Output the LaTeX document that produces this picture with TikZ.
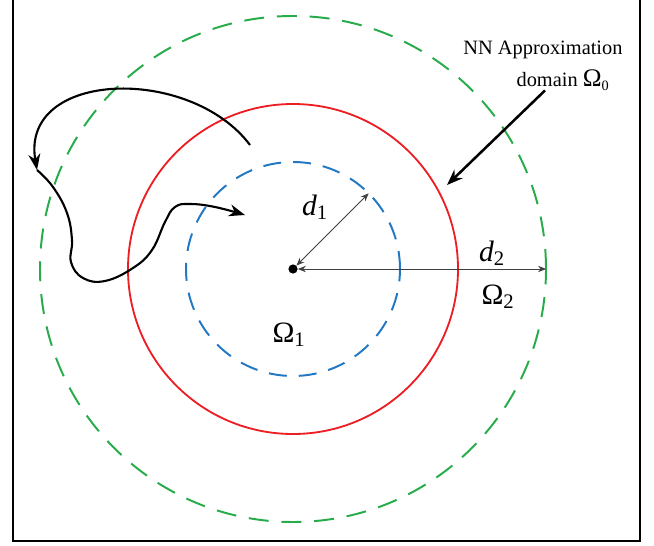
\documentclass[tikz,border=0pt]{standalone}
\usepackage{fontspec}
\setmainfont{Liberation Serif}
\usetikzlibrary{arrows.meta, calc}

\definecolor{ringgreen}{RGB}{40,172,75}
\definecolor{ringred}{RGB}{236,30,36}
\definecolor{ringblue}{RGB}{35,120,196}

\begin{document}
\begin{tikzpicture}[
    % Define Ring Styles
    outerring/.style={ringgreen, line width=1.4pt, dash pattern=on 5mm off 3.2mm},
    nnring/.style={ringred, line width=1.3pt},
    innerring/.style={ringblue, line width=1.4pt, dash pattern=on 4.5mm off 3mm},
    % Define Arrow Styles
    dimarrow/.style={{Stealth[length=2mm, width=1.6mm]}-{Stealth[length=2mm, width=1.6mm]}, line width=0.6pt, black!75},
    bigarrow/.style={-{Stealth[length=4mm, width=3mm]}, line width=1.8pt},
    trajectory/.style={-{Stealth[length=4mm, width=3mm]}, line width=1.5pt},
    lbl/.style={font=\fontsize{14.5}{17}\selectfont, inner sep=0pt},
    symlbl/.style={font=\fontsize{21}{24}\selectfont, inner sep=0pt}
    ]
    \useasboundingbox (-7.325,-6.9) rectangle (9.025,6.725);

    % Frame
    \draw[line width=1.4pt] (-7.0,6.8) -- (-7.0,-6.8) -- (8.675,-6.8) -- (8.675,6.8);

    % Rings
    \draw[outerring] (0,0) circle (6.325);
    \draw[nnring] (0,0) circle (4.125);
    \draw[innerring] (0,0) circle (2.675);

    % Nodes
    \node[circle, fill, inner sep=0pt, minimum size=2.3mm] (O) at (0,0) {};
    \coordinate (P1) at (45:2.675);
    \coordinate (P2) at (0:6.325);
    \coordinate (R0) at (28.6:4.385);
    \node[symlbl] (d1lab) at (0.55,1.55) {\textit{d}\textsubscript{1}};
    \node[symlbl] (d2lab) at (4.975,0.4) {\textit{d}\textsubscript{2}};
    \node[symlbl] (om1lab) at (-0.1,-1.65) {Ω\textsubscript{1}};
    \node[symlbl] (om2lab) at (5.125,-0.7) {Ω\textsubscript{2}};
    \node[lbl] (nnlab) at (6.25,5.475) {NN Approximation};
    \node[lbl] (domlab) at (6.75,4.72) {domain {\fontsize{18}{20}\selectfont Ω}\textsubscript{0}};

    % Radii
    \draw[dimarrow] (O) -- (P1);
    \draw[dimarrow] (O) -- (P2);

    % Pointer to the approximation domain
    \draw[bigarrow] ($(domlab.south)+(-0.45,0.0)$) -- (R0);

    % Trajectory
    \coordinate (T0) at (-1.075,3.1);
    \coordinate (T1) at (-6.4,2.475);
    \coordinate (T2) at (-1.2,1.35);
    \draw[trajectory] (T0) .. controls (-2.575,5.1) and (-6.825,4.975) .. (T1);
    \draw[trajectory] plot[smooth, tension=0.7] coordinates {(T1) (-6.0,2.05) (-5.65,1.4) (-5.525,0.725) (-5.55,0.175) (-5.25,-0.225) (-4.7,-0.3) (-4.0,0.025) (-3.525,0.475) (-3.2,1.175) (-2.95,1.55) (-2.575,1.625) (-1.95,1.55) (T2)};

\end{tikzpicture}
\end{document}
